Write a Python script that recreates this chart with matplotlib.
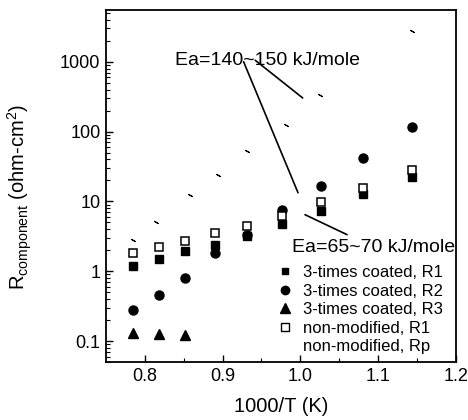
import numpy as np
import matplotlib
matplotlib.use('Agg')
import matplotlib.pyplot as plt
from matplotlib.lines import Line2D
from matplotlib.ticker import FixedLocator, NullFormatter

plt.rcParams['font.family'] = ['Liberation Sans', 'DejaVu Sans']
plt.rcParams['mathtext.fontset'] = 'custom'
plt.rcParams['mathtext.rm'] = 'Liberation Sans'
plt.rcParams['mathtext.it'] = 'Liberation Sans'

# values
x_r1 = [0.785, 0.818, 0.852, 0.890, 0.931, 0.976, 1.026, 1.081, 1.144]
coated_r1 = [1.2, 1.5, 1.93, 2.4, 3.2, 4.8, 7.4, 12.8, 22.3]
coated_r2 = [0.277, 0.45, 0.79, 1.8, 3.3, 7.6, 16.7, 42, 118]
nonmod_r1 = [1.85, 2.2, 2.74, 3.5, 4.4, 6.1, 9.7, 15.5, 28.4]

x_r3 = [0.785, 0.818, 0.852]
coated_r3 = [0.129, 0.125, 0.122]

x_rp = [0.785, 0.814, 0.858, 0.894, 0.931, 0.982, 1.025, 1.143]
nonmod_rp = [2.8, 5.0, 12.5, 24, 52, 125, 333, 2800]

labels = ['3-times coated, R1', '3-times coated, R2', '3-times coated, R3',
          'non-modified, R1', 'non-modified, Rp']

fig = plt.figure(figsize=(4.68, 4.2), dpi=100)
ax = fig.add_axes([0.2265, 0.138, 0.7475, 0.838])

ax.plot(x_r1, coated_r1, ls='none', marker='s', ms=5.5, color='black')
ax.plot(x_r1, coated_r2, ls='none', marker='o', ms=6.5, color='black')
ax.plot(x_r3, coated_r3, ls='none', marker='^', ms=7.5, color='black')
ax.plot(x_r1, nonmod_r1, ls='none', marker='s', ms=6, mfc='white', mec='black', mew=1.1)
ax.plot(x_rp, nonmod_rp, ls='none', marker=(2, 2, 60), ms=3.5, mew=0.8, color='black')

ax.set_yscale('log')
ax.set_xlim(0.75, 1.2)
ax.set_ylim(0.05, 5500)
ax.set_xticks([0.8, 0.9, 1.0, 1.1, 1.2])
ax.set_xticklabels(['0.8', '0.9', '1.0', '1.1', '1.2'])
ax.xaxis.set_minor_locator(FixedLocator([0.85, 0.95, 1.05, 1.15]))
ax.set_yticks([0.1, 1, 10, 100, 1000])
ax.set_yticklabels(['0.1', '1', '10', '100', '1000'])
ax.yaxis.set_minor_formatter(NullFormatter())
ax.tick_params(which='both', direction='in', labelsize=13, top=False, right=False)
ax.tick_params(axis='x', which='major', pad=4)
ax.tick_params(axis='y', which='major', pad=4)
ax.tick_params(which='major', length=5, width=1)
ax.tick_params(which='minor', length=3, width=0.8)
for s in ax.spines.values():
    s.set_linewidth(1.3)

ax.set_xlabel('1000/T (K)', fontsize=14.5)
ax.xaxis.set_label_coords(0.5, -0.1)
ax.set_ylabel(r'R$_{\mathrm{component}}$ (ohm-cm$^2$)', fontsize=14.5)
ax.yaxis.set_label_coords(-0.205, 0.47)

# annotations
ax.text(0.839, 1050, 'Ea=140~150 kJ/mole', fontsize=14, va='center', ha='left')
ax.annotate('', xy=(0.997, 13.3), xytext=(0.927, 1000),
            arrowprops=dict(arrowstyle='-', color='black', lw=1.2,
                            shrinkA=0, shrinkB=0))
ax.annotate('', xy=(1.003, 303), xytext=(0.942, 1050),
            arrowprops=dict(arrowstyle='-', color='black', lw=1.2,
                            shrinkA=0, shrinkB=0))
ax.text(0.989, 2.18, 'Ea=65~70 kJ/mole', fontsize=14, va='center', ha='left')
ax.annotate('', xy=(1.006, 6.45), xytext=(1.06, 3.34),
            arrowprops=dict(arrowstyle='-', color='black', lw=1.2,
                            shrinkA=0, shrinkB=0))

handles = [
    Line2D([], [], ls='none', marker='s', ms=5, color='black'),
    Line2D([], [], ls='none', marker='o', ms=6, color='black'),
    Line2D([], [], ls='none', marker='^', ms=7, color='black'),
    Line2D([], [], ls='none', marker='s', ms=5.5, mfc='white', mec='black', mew=1),
    Line2D([], [], ls='none', marker=''),
]
ax.legend(handles, labels, loc='upper left', bbox_to_anchor=(0.488, 0.275),
          frameon=False, fontsize=12, handlelength=1.0, handletextpad=0.58,
          labelspacing=0.21, borderpad=0, borderaxespad=0)

fig.savefig('out.png', dpi=100)
